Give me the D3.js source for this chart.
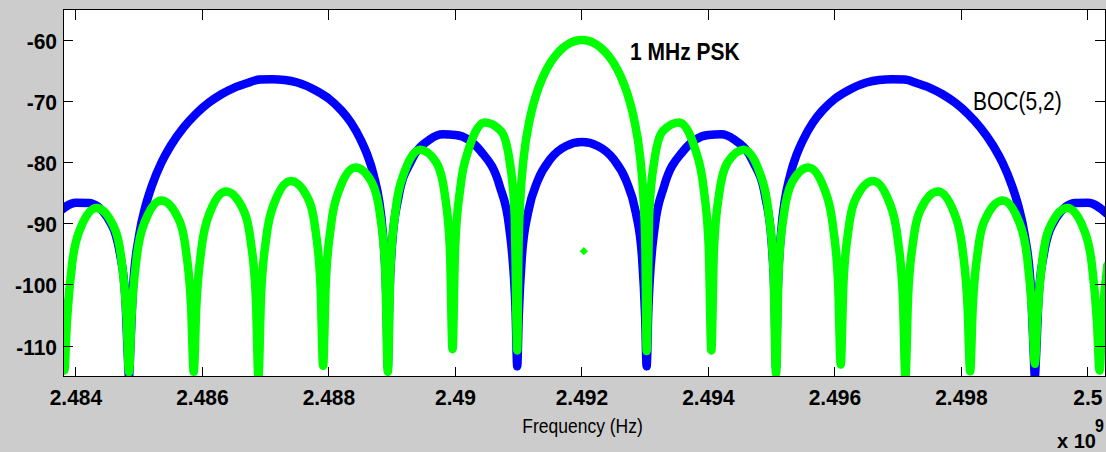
<!DOCTYPE html>
<html>
<head>
<meta charset="utf-8">
<script src="https://cdn.jsdelivr.net/npm/d3@7"></script>
<style>
  html, body { margin: 0; padding: 0; background: #cccccc; }
  svg { display: block; font-family: "Liberation Sans", Arial, Helvetica, sans-serif; }
</style>
</head>
<body>
<div id="main"></div>
<script>
// carrier (GHz); spectra are given as [offset from carrier in MHz, level in dB]
var centerGHz = 2.492;

var pskSpectrum = [
  [-8.307,-96.81],[-8.225,-106.09],[-8.184,-114.0],
  [-8.143,-106.0],[-8.061,-96.55],[-7.928,-90.74],[-7.673,-87.44],[-7.417,-90.16],[-7.284,-95.67],[-7.202,-104.94],[-7.161,-114.3],
  [-7.12,-104.84],[-7.038,-95.38],[-6.905,-89.54],[-6.65,-86.2],[-6.394,-88.87],[-6.261,-94.36],[-6.179,-103.6],[-6.138,-114.2],
  [-6.097,-103.49],[-6.015,-94.01],[-5.882,-88.15],[-5.627,-84.75],[-5.371,-87.36],[-5.238,-92.81],[-5.156,-102.03],[-5.115,-115.0],
  [-5.074,-101.89],[-4.992,-92.39],[-4.859,-86.49],[-4.604,-83.01],[-4.348,-85.52],[-4.215,-90.92],[-4.133,-100.11],[-4.092,-113.2],
  [-4.051,-99.94],[-3.969,-90.4],[-3.836,-84.43],[-3.581,-80.82],[-3.325,-83.19],[-3.192,-88.51],[-3.11,-97.64],[-3.069,-114.2],
  [-3.028,-97.41],[-2.946,-87.81],[-2.813,-81.74],[-2.558,-77.9],[-2.302,-80.0],[-2.169,-85.15],[-2.087,-94.18],[-2.046,-110.5],
  [-2.005,-93.83],[-1.923,-84.11],[-1.79,-77.81],[-1.535,-73.47],[-1.279,-74.89],[-1.146,-79.61],[-1.064,-88.32],[-1.023,-110.7],
  [-1.003,-93.8],[-0.972,-85.61],[-0.921,-79.23],[-0.818,-72.62],[-0.716,-68.69],[-0.614,-65.94],[-0.512,-63.92],
  [-0.409,-62.42],[-0.307,-61.33],[-0.205,-60.58],[-0.102,-60.14],
  [0,-60.0],
  [0.102,-60.14],[0.205,-60.58],[0.307,-61.33],[0.409,-62.42],
  [0.512,-63.92],[0.614,-65.94],[0.716,-68.69],[0.818,-72.62],[0.921,-79.23],[0.972,-85.61],[1.003,-93.8],
  [1.023,-110.8],[1.064,-88.32],[1.146,-79.61],[1.279,-74.89],[1.535,-73.47],[1.79,-77.81],[1.923,-84.11],[2.005,-93.83],
  [2.046,-110.7],[2.087,-94.18],[2.169,-85.15],[2.302,-80.0],[2.558,-77.9],[2.813,-81.74],[2.946,-87.81],[3.028,-97.41],
  [3.069,-114.5],[3.11,-97.64],[3.192,-88.51],[3.325,-83.19],[3.581,-80.82],[3.836,-84.43],[3.969,-90.4],[4.051,-99.94],
  [4.092,-113.0],[4.133,-100.11],[4.215,-90.92],[4.348,-85.52],[4.604,-83.01],[4.859,-86.49],[4.992,-92.39],[5.074,-101.89],
  [5.115,-115.0],[5.156,-102.03],[5.238,-92.81],[5.371,-87.36],[5.627,-84.75],[5.882,-88.15],[6.015,-94.01],[6.097,-103.49],
  [6.138,-114.1],[6.179,-103.6],[6.261,-94.36],[6.394,-88.87],[6.65,-86.2],[6.905,-89.54],[7.038,-95.38],[7.12,-104.84],
  [7.161,-112.9],[7.202,-104.94],[7.284,-95.67],[7.417,-90.16],[7.673,-87.44],[7.928,-90.74],[8.061,-96.55],[8.143,-106.0],
  [8.184,-114.0],[8.225,-106.09],[8.307,-96.81]
];

// lone sample sitting under the PSK main lobe
var pskStray = [[0.03,-94.5]];

var bocSpectrum = [
  [-8.3,-88.36],[-8.0,-86.58],[-7.8,-86.6],[-7.5,-89.04],[-7.3,-95.15],[-7.22,-102.0],[-7.18,-111.6],
  [-7.161,-115.0],
  [-7.14,-110.3],[-7.1,-100.9],[-7.0,-91.84],[-6.9,-87.11],[-6.8,-83.81],[-6.65,-80.05],[-6.5,-77.21],[-6.3,-74.29],
  [-6.1,-72.02],[-5.9,-70.23],[-5.7,-68.85],[-5.5,-67.8],[-5.3,-67.06],[-5.1,-66.44],[-4.9,-66.4],[-4.7,-66.52],[-4.5,-66.93],
  [-4.2,-68.27],[-4.0,-69.58],[-3.8,-71.53],[-3.65,-73.51],[-3.5,-76.24],[-3.4,-78.58],[-3.3,-81.78],[-3.15,-91.27],[-3.09,-103.1],
  [-3.069,-113.4],
  [-3.05,-104.1],[-3.0,-93.1],[-2.9,-85.65],[-2.7,-79.76],[-2.4,-76.19],[-2.2,-75.4],[-2.0,-75.49],[-1.6,-78.14],
  [-1.3,-83.86],[-1.15,-90.57],[-1.05,-104.0],
  [-1.023,-113.3],
  [-1.0,-105.4],[-0.95,-95.45],[-0.85,-88.09],[-0.7,-82.98],[-0.5,-79.46],[-0.25,-77.31],
  [0,-76.67],
  [0.25,-77.31],[0.5,-79.46],[0.7,-82.98],[0.85,-88.09],[0.95,-95.45],[1.0,-105.4],
  [1.023,-113.3],
  [1.05,-104.0],[1.15,-90.57],[1.3,-83.86],[1.6,-78.14],[2.0,-75.49],[2.2,-75.4],[2.4,-76.19],[2.7,-79.76],
  [2.9,-85.65],[3.0,-93.1],[3.05,-104.1],
  [3.069,-113.6],
  [3.09,-103.1],[3.15,-91.27],[3.3,-81.78],[3.4,-78.58],[3.5,-76.24],[3.65,-73.51],[3.8,-71.53],[4.0,-69.58],[4.2,-68.27],
  [4.5,-66.93],[4.7,-66.52],[4.9,-66.4],[5.1,-66.44],[5.3,-67.06],[5.5,-67.8],[5.7,-68.85],[5.9,-70.23],[6.1,-72.02],
  [6.3,-74.29],[6.5,-77.21],[6.65,-80.05],[6.8,-83.81],[6.9,-87.11],[7.0,-91.84],[7.1,-100.9],[7.14,-110.3],
  [7.161,-115.0],
  [7.18,-111.6],[7.22,-102.0],[7.3,-95.15],[7.5,-89.04],[7.8,-86.6],[8.0,-86.58],[8.3,-88.36]
];

var xTicks = [2.484, 2.486, 2.488, 2.490, 2.492, 2.494, 2.496, 2.498, 2.500];
var xTickLabels = ["2.484", "2.486", "2.488", "2.49", "2.492", "2.494", "2.496", "2.498", "2.5"];
var yTicks = [-110, -100, -90, -80, -70, -60];
var yTickLabels = ["-110", "-100", "-90", "-80", "-70", "-60"];

var width = 1106, height = 452;
var plotL = 63.3, plotR = 1105, plotT = 9.5, plotB = 376.7;

var svg = d3.select("#main").append("svg")
  .attr("width", width)
  .attr("height", height);

svg.append("rect")
  .attr("width", width).attr("height", height)
  .attr("fill", "#cccccc");

var x = d3.scaleLinear().domain([2.4838, 2.50027]).range([plotL, plotR]);
var y = d3.scaleLinear().domain([-115, -55]).range([plotB, plotT]);

function fx(d) { return x(centerGHz + d[0] / 1000); }
function fy(d) { return y(d[1]); }

svg.append("rect")
  .attr("x", plotL).attr("y", plotT)
  .attr("width", plotR - plotL).attr("height", plotB - plotT)
  .attr("fill", "#ffffff");

svg.append("clipPath").attr("id", "plotclip")
  .append("rect")
  .attr("x", plotL).attr("y", plotT)
  .attr("width", plotR - plotL).attr("height", plotB - plotT);

var plot = svg.append("g").attr("clip-path", "url(#plotclip)");

var line = d3.line().x(fx).y(fy).curve(d3.curveMonotoneX);
var diamond = d3.symbol().type(d3.symbolSquare).size(34);

function drawSeries(data, color) {
  plot.append("path")
    .datum(data)
    .attr("d", line)
    .attr("fill", "none")
    .attr("stroke", color)
    .attr("stroke-width", 8.5)
    .attr("stroke-linejoin", "round")
    .attr("stroke-linecap", "round");
  plot.append("g").selectAll("path")
    .data(data)
    .enter().append("path")
    .attr("d", diamond)
    .attr("transform", function (d) { return "translate(" + fx(d) + "," + fy(d) + ") rotate(45)"; })
    .attr("fill", color);
}

drawSeries(bocSpectrum, "#0000ff");
drawSeries(pskSpectrum, "#00ff00");

plot.append("g").selectAll("path")
  .data(pskStray)
  .enter().append("path")
  .attr("d", diamond)
  .attr("transform", function (d) { return "translate(" + fx(d) + "," + fy(d) + ") rotate(45)"; })
  .attr("fill", "#00ff00");

// frame and inward ticks on all four sides
var axes = svg.append("g").attr("stroke", "#000").attr("stroke-width", 1).attr("shape-rendering", "crispEdges");
axes.append("rect")
  .attr("x", plotL).attr("y", plotT)
  .attr("width", plotR - plotL).attr("height", plotB - plotT)
  .attr("fill", "none");

var tickLen = 10;
xTicks.forEach(function (t) {
  axes.append("line").attr("x1", x(t)).attr("x2", x(t)).attr("y1", plotB).attr("y2", plotB - tickLen);
  axes.append("line").attr("x1", x(t)).attr("x2", x(t)).attr("y1", plotT).attr("y2", plotT + tickLen);
});
yTicks.forEach(function (t) {
  axes.append("line").attr("x1", plotL).attr("x2", plotL + tickLen).attr("y1", y(t)).attr("y2", y(t));
  axes.append("line").attr("x1", plotR).attr("x2", plotR - tickLen).attr("y1", y(t)).attr("y2", y(t));
});

function label(px, py, str, size, weight, anchor, sy) {
  return svg.append("text")
    .attr("transform", "translate(" + px + "," + py + ") scale(1," + sy + ")")
    .attr("font-size", size)
    .attr("font-weight", weight)
    .attr("text-anchor", anchor)
    .attr("fill", "#000")
    .text(str);
}

xTicks.forEach(function (t, i) {
  label(x(t), 405, xTickLabels[i], 21, "bold", "middle", 1.08);
});
yTicks.forEach(function (t, i) {
  label(57, y(t) + 8.5, yTickLabels[i], 21, "bold", "end", 1.05);
});

label(582.5, 433, "Frequency (Hz)", 17.5, "normal", "middle", 1.15);
label(630, 60, "1 MHz PSK", 21, "bold", "start", 1.1);
label(973, 110, "BOC(5,2)", 21, "normal", "start", 1.2);
label(1057, 448, "x 10", 20, "bold", "start", 1.05);
label(1095, 431.5, "9", 16, "bold", "start", 1.1);
</script>
</body>
</html>
